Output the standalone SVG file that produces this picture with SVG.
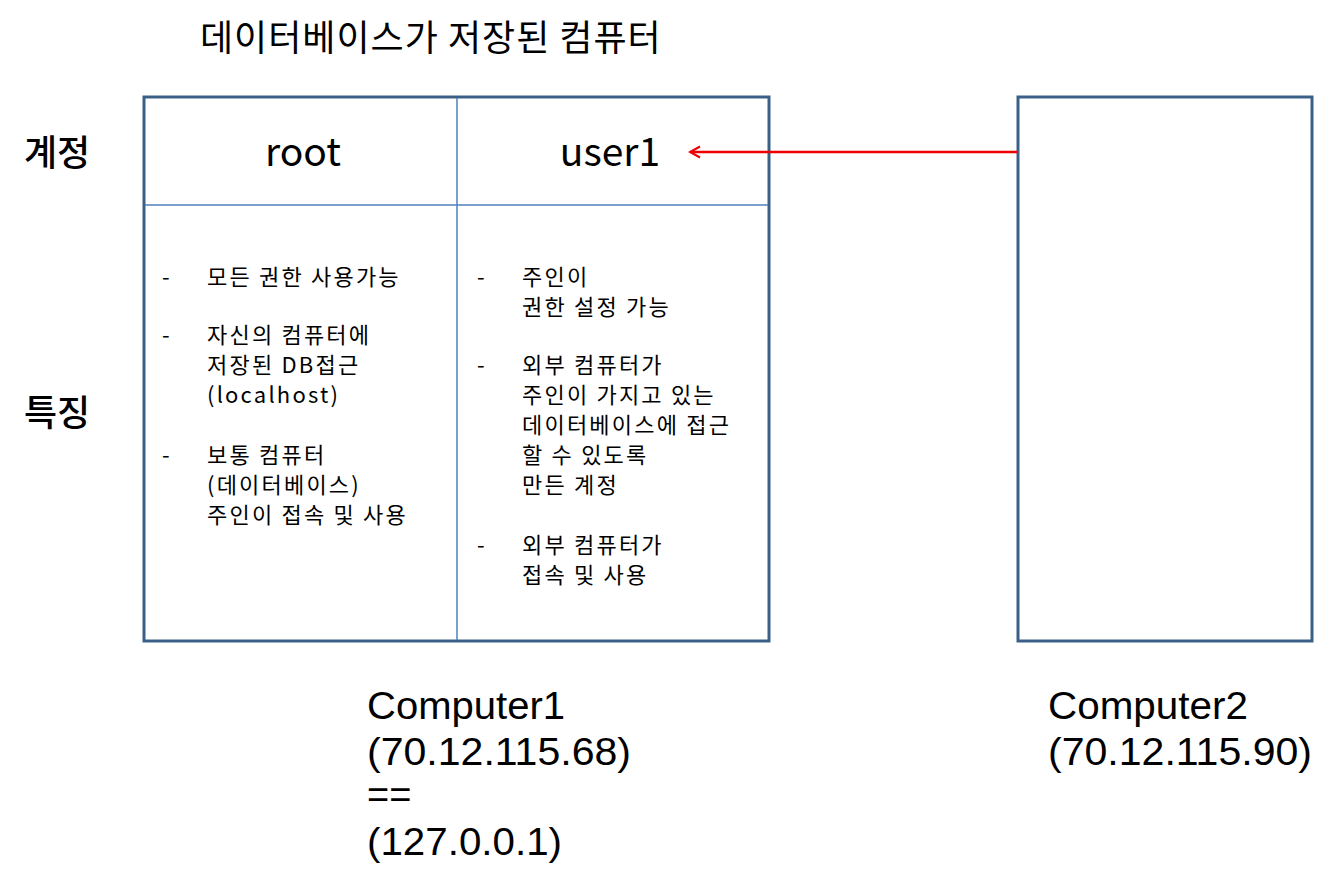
<svg xmlns="http://www.w3.org/2000/svg" width="1337" height="888" viewBox="0 0 1337 888">
<style>
text{font-family:"Noto Sans CJK KR","Noto Sans",sans-serif;fill:#000}
.box{fill:#fff;stroke:#3b6088;stroke-width:3}
.div{stroke:#4f81bd;stroke-width:1.5;fill:none}
.big{font-size:39px}
.lab{font-size:36px;font-weight:500}
.b{font-size:22px;letter-spacing:2.2px}
.cap text{font-size:38px;font-family:"Liberation Sans","Noto Sans",sans-serif}
</style>
<defs>
<marker id="ah" viewBox="0 0 14 14" refX="12" refY="7" markerWidth="14" markerHeight="14" markerUnits="userSpaceOnUse" orient="auto">
<path d="M2,1.5 L12,7 L2,12.5" fill="none" stroke="#e00" stroke-width="2"/>
</marker>
</defs>
<text x="200" y="51" class="lab" style="font-weight:400;letter-spacing:1px">데이터베이스가 저장된 컴퓨터</text>
<text x="24" y="166" class="lab">계정</text>
<text x="24" y="426" class="lab">특징</text>
<g id="computer1">
<rect class="box" x="144" y="97" width="625" height="544"/>
<line class="div" x1="145" y1="205" x2="768" y2="205"/>
<line class="div" x1="457" y1="98" x2="457" y2="640"/>
<text x="303" y="166" class="big" text-anchor="middle">root</text>
<text x="610" y="166" class="big" text-anchor="middle">user1</text>
<g class="b">
<text x="162" y="285">-</text>
<text x="207" y="285">모든 권한 사용가능</text>
<text x="162" y="343">-</text>
<text x="207" y="343">자신의 컴퓨터에</text>
<text x="207" y="373">저장된 DB접근</text>
<text x="207" y="403">(localhost)</text>
<text x="162" y="463">-</text>
<text x="207" y="463">보통 컴퓨터</text>
<text x="207" y="493">(데이터베이스)</text>
<text x="207" y="523">주인이 접속 및 사용</text>
<text x="477" y="285">-</text>
<text x="522" y="285">주인이</text>
<text x="522" y="315">권한 설정 가능</text>
<text x="477" y="373">-</text>
<text x="522" y="373">외부 컴퓨터가</text>
<text x="522" y="403">주인이 가지고 있는</text>
<text x="522" y="433">데이터베이스에 접근</text>
<text x="522" y="463">할 수 있도록</text>
<text x="522" y="493">만든 계정</text>
<text x="477" y="553">-</text>
<text x="522" y="553">외부 컴퓨터가</text>
<text x="522" y="583">접속 및 사용</text>
</g>
<g class="cap">
<text x="367" y="719" textLength="198" lengthAdjust="spacingAndGlyphs">Computer1</text>
<text x="367" y="765" textLength="264" lengthAdjust="spacingAndGlyphs">(70.12.115.68)</text>
<text x="367" y="808">==</text>
<text x="367" y="855" textLength="195" lengthAdjust="spacingAndGlyphs">(127.0.0.1)</text>
</g>
</g>
<g id="computer2">
<rect class="box" x="1018" y="97" width="294" height="544"/>
<g class="cap">
<text x="1048" y="719" textLength="200" lengthAdjust="spacingAndGlyphs">Computer2</text>
<text x="1048" y="765" textLength="264" lengthAdjust="spacingAndGlyphs">(70.12.115.90)</text>
</g>
</g>
<g id="connectors">
<line x1="1017" y1="152" x2="690" y2="152" stroke="#e00" stroke-width="2.5" marker-end="url(#ah)"/>
</g>
</svg>
